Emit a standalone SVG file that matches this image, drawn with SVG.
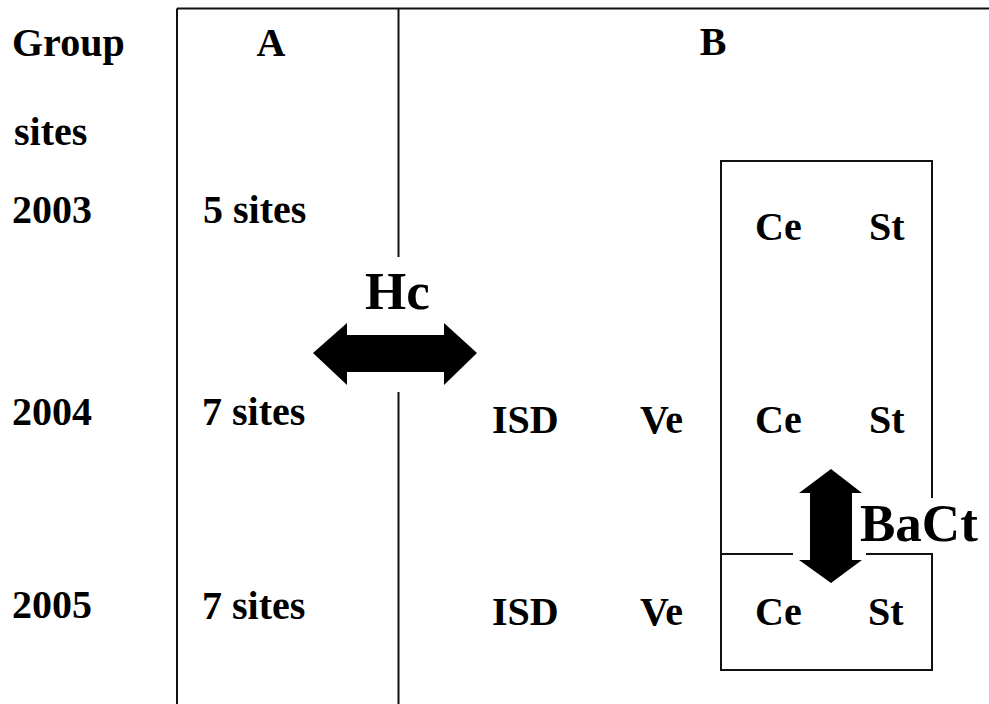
<svg xmlns="http://www.w3.org/2000/svg" width="989" height="704" viewBox="0 0 989 704">
<style>
text { font-family: "Liberation Serif", "Times New Roman", serif; font-weight: bold; fill: #000; }
.t { font-size: 40px; }
.big { font-size: 53px; }
.ln { stroke: #111; stroke-width: 2; fill: none; }
.ar { fill: #000; stroke: none; }
</style>
<rect x="0" y="0" width="989" height="704" fill="#fff"/>
<g id="frame">
  <line class="ln" x1="177" y1="8.5" x2="989" y2="8.5"/>
  <line class="ln" x1="177" y1="8.5" x2="177" y2="704"/>
  <line class="ln" x1="398.5" y1="8.5" x2="398.5" y2="257"/>
  <line class="ln" x1="398.5" y1="392" x2="398.5" y2="704"/>
</g>
<g id="box">
  <polyline class="ln" points="932,498 932,161 721,161 721,670 932,670 932,554 866,554"/>
  <line class="ln" x1="721" y1="554" x2="793" y2="554"/>
</g>
<g id="labels-left">
  <text class="t" x="12" y="56">Group</text>
  <text class="t" x="14" y="145">sites</text>
  <text class="t" x="12" y="223">2003</text>
  <text class="t" x="12" y="425">2004</text>
  <text class="t" x="12" y="618">2005</text>
</g>
<g id="groupA">
  <text class="t" x="271" y="56" text-anchor="middle">A</text>
  <text class="t" x="203" y="223">5 sites</text>
  <text class="t" x="202" y="425">7 sites</text>
  <text class="t" x="202" y="619">7 sites</text>
</g>
<g id="groupB">
  <text class="t" x="713" y="55" text-anchor="middle">B</text>
  <text class="t" x="755" y="240">Ce</text>
  <text class="t" x="869" y="240">St</text>
  <text class="t" x="492" y="433">ISD</text>
  <text class="t" x="640" y="433">Ve</text>
  <text class="t" x="755" y="433">Ce</text>
  <text class="t" x="869" y="433">St</text>
  <text class="t" x="492" y="625">ISD</text>
  <text class="t" x="640" y="625">Ve</text>
  <text class="t" x="755" y="625">Ce</text>
  <text class="t" x="868" y="625">St</text>
</g>
<g id="connectors">
  <g id="Hc">
    <polygon class="ar" points="313,353 347,323 347,335 444,335 444,323 477,353 444,385 444,372 347,372 347,385"/>
    <text class="big" x="365" y="309">Hc</text>
  </g>
  <g id="BaCt">
    <polygon class="ar" points="831,469 862,493 852,493 852,560 862,560 831,583 799,560 810,560 810,493 799,493"/>
    <text class="big" x="860" y="541">BaCt</text>
  </g>
</g>
</svg>
